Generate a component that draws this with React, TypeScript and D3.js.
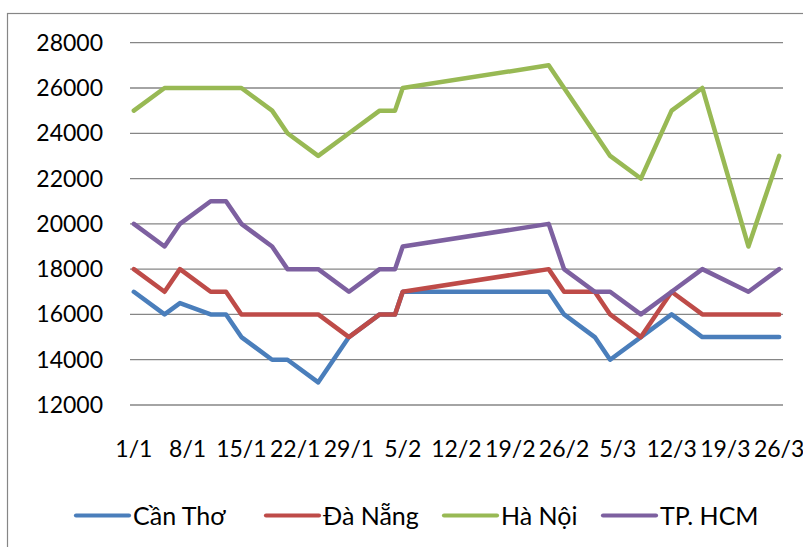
import React, { useRef, useEffect } from 'react';
import * as d3 from 'd3';

// Price observations (day/month), non-leap year
const dates = ['1/1', '5/1', '7/1', '11/1', '13/1', '15/1', '19/1', '21/1', '25/1', '29/1', '2/2', '4/2', '5/2',
  '24/2', '26/2', '2/3', '4/3', '8/3', '12/3', '16/3', '22/3', '26/3'];

const canTho = [17000, 16000, 16500, 16000, 16000, 15000, 14000, 14000, 13000, 15000, 16000, 16000, 17000,
  17000, 16000, 15000, 14000, 15000, 16000, 15000, 15000, 15000];
const daNang = [18000, 17000, 18000, 17000, 17000, 16000, 16000, 16000, 16000, 15000, 16000, 16000, 17000,
  18000, 17000, 17000, 16000, 15000, 17000, 16000, 16000, 16000];
const haNoi = [25000, 26000, 26000, 26000, 26000, 26000, 25000, 24000, 23000, 24000, 25000, 25000, 26000,
  27000, 26000, 24000, 23000, 22000, 25000, 26000, 19000, 23000];
const hcm = [20000, 19000, 20000, 21000, 21000, 20000, 19000, 18000, 18000, 17000, 18000, 18000, 19000,
  20000, 18000, 17000, 17000, 16000, 17000, 18000, 17000, 18000];

const seriesNames = ['Cần Thơ', 'Đà Nẵng', 'Hà Nội', 'TP. HCM'];
const seriesColors = ['#4A7EBB', '#BE4B48', '#98B954', '#7D60A0'];

const xTickLabels = ['1/1', '8/1', '15/1', '22/1', '29/1', '5/2', '12/2', '19/2', '26/2', '5/3', '12/3', '19/3', '26/3'];
const yTicks = [12000, 14000, 16000, 18000, 20000, 22000, 24000, 26000, 28000];

const parseDay = (s: string) => {
  const [d, m] = s.split('/').map(Number);
  return new Date(Date.UTC(2013, m - 1, d));
};

const App = () => {
  const ref = useRef<SVGSVGElement | null>(null);

  useEffect(() => {
    const svg = d3.select(ref.current);
    svg.selectAll('*').remove();

    const font = 'Lato, Carlito, "Liberation Sans", sans-serif';
    const left = 130, right = 783, top = 42.7, bottom = 405;

    // chart frame
    svg.append('rect').attr('x', 7.5).attr('y', 13.5).attr('width', 820).attr('height', 600)
      .attr('fill', '#fff').attr('stroke', '#868686').attr('stroke-width', 1.2);

    const first = parseDay(dates[0]);
    const last = parseDay(dates[dates.length - 1]);
    const x = d3.scaleUtc()
      .domain([d3.utcHour.offset(first, -12), d3.utcHour.offset(last, 12)])
      .range([left, right]);
    const y = d3.scaleLinear().domain([12000, 28000]).range([bottom, top]);

    // gridlines + y labels
    const yAxis = svg.append('g');
    yAxis.selectAll('line').data(yTicks).join('line')
      .attr('x1', left).attr('x2', right)
      .attr('y1', d => y(d)).attr('y2', d => y(d))
      .attr('stroke', '#868686').attr('stroke-width', 1.3);
    yAxis.selectAll('text').data(yTicks).join('text')
      .attr('x', 103).attr('y', d => y(d) + 8)
      .attr('text-anchor', 'end')
      .attr('font-family', font).attr('font-size', 23).attr('fill', '#000')
      .text(d => String(d));

    // x labels
    svg.append('g').selectAll('text').data(xTickLabels).join('text')
      .attr('x', d => x(parseDay(d))).attr('y', 456.5)
      .attr('text-anchor', 'middle')
      .attr('font-family', font).attr('font-size', 23).attr('fill', '#000')
      .text(d => d);

    // lines
    const all = [canTho, daNang, haNoi, hcm];
    const line = d3.line<number>()
      .x((d, i) => x(parseDay(dates[i])))
      .y(d => y(d));
    all.forEach((vals, k) => {
      svg.append('path').datum(vals)
        .attr('d', line)
        .attr('fill', 'none')
        .attr('stroke', seriesColors[k])
        .attr('stroke-width', 4.5)
        .attr('stroke-linejoin', 'round')
        .attr('stroke-linecap', 'round');
    });

    // legend (item start positions as in the original layout)
    const legendX = [76, 266, 444, 603];
    const ly = 515.5;
    seriesNames.forEach((name, k) => {
      const lx = legendX[k];
      svg.append('line').attr('x1', lx).attr('x2', lx + 53).attr('y1', ly).attr('y2', ly)
        .attr('stroke', seriesColors[k]).attr('stroke-width', 4.2).attr('stroke-linecap', 'round');
      svg.append('text').attr('x', lx + 57).attr('y', 525)
        .attr('font-family', font).attr('font-size', 25).attr('fill', '#000')
        .text(name);
    });
  }, []);

  return (
    <svg ref={ref} width={803} height={547}
      style={{ position: 'absolute', left: 0, top: 0, background: '#fff' }} />
  );
};

export default App;
